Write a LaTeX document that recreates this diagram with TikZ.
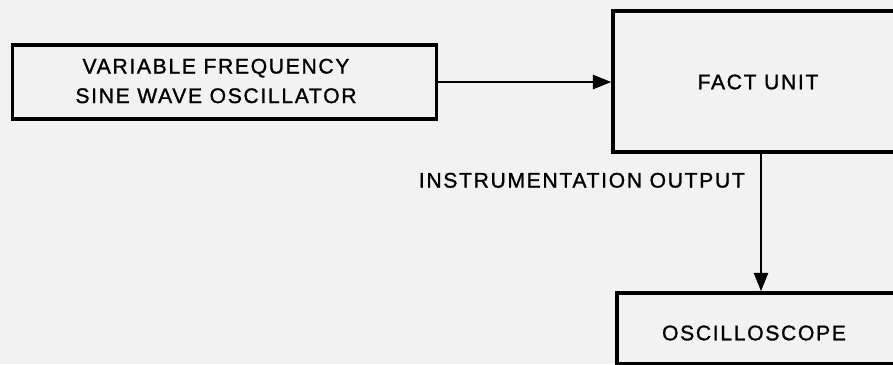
\documentclass[tikz,border=0pt]{standalone}
\usepackage{fontspec}
\setmainfont{Liberation Sans}[LetterSpace=8,FakeBold=1.2]
\usetikzlibrary{arrows.meta,positioning}
\tikzset{
    blockbox/.style={draw,line width=2.4pt,inner sep=0pt,font=\fontsize{15}{21}\selectfont},
    blocktext/.style={font=\fontsize{15}{21}\selectfont},
    flowline/.style={line width=1.5pt,-{Triangle[length=13pt,width=10pt]}}
}
\begin{document}
\begin{tikzpicture}[x=0.025cm,y=-0.025cm]
            \fill[black!5] (0,0) rectangle (893,364);
            \useasboundingbox (0,0) rectangle (893,364);
            \clip (0,0) rectangle (893,364);
            % Bloecke
            \node[blockbox,minimum width=10.6cm,minimum height=1.85cm] (osc) at (224.5,82) {};
            \node[blocktext,align=center] (osclbl) at (216,81) {VARIABLE FREQUENCY\\SINE WAVE OSCILLATOR};
            \node[blockbox,minimum width=8.2cm,minimum height=3.52cm] (fact) at (777,81.5) {};
            \node[blocktext] (factlbl) at (758,82) {FACT UNIT};
            \node[blockbox,minimum width=7.9cm,minimum height=1.78cm] (scope) at (775,328.5) {};
            \node[blocktext] (scopelbl) at (754,333) {OSCILLOSCOPE};
            \coordinate (factout) at (fact.south -| 761,0);
            \coordinate (scopein) at (scope.north -| 761,0);
            % Verbindungen
            \draw[flowline] (osc.east) -- (fact.west |- osc.east);
            \draw[flowline] (factout) -- (scopein);
            \node[blocktext,left=8pt of factout,anchor=east,yshift=-19pt] (instr) {INSTRUMENTATION OUTPUT};
        \end{tikzpicture}
\end{document}
